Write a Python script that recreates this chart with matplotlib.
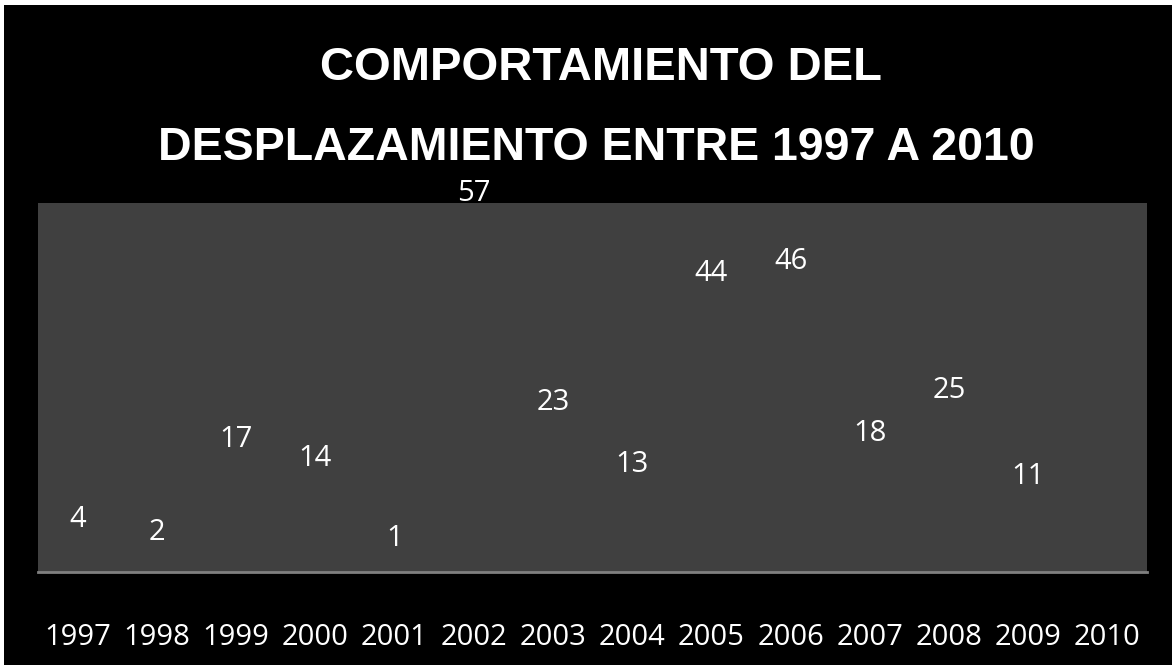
import matplotlib
matplotlib.use('Agg')
import matplotlib.pyplot as plt
from matplotlib.patches import Rectangle
import numpy as np

# datos
years = ['1997', '1998', '1999', '2000', '2001', '2002', '2003',
         '2004', '2005', '2006', '2007', '2008', '2009', '2010']
values = [4, 2, 17, 14, 1, 57, 23, 13, 44, 46, 18, 25, 11, np.nan]

title_1 = 'COMPORTAMIENTO DEL'
title_2 = 'DESPLAZAMIENTO ENTRE 1997 A 2010'

W, H = 1172, 667
fig = plt.figure(figsize=(W / 100, H / 100), dpi=100, facecolor='white')
# fondo negro de la diapositiva
fig.patches.append(Rectangle((4 / W, 2 / H), (W - 4) / W, (H - 7) / H,
                             transform=fig.transFigure, facecolor='black',
                             edgecolor='none', zorder=-5))

ax = fig.add_axes([38 / W, (H - 572) / H, (1147 - 38) / W, (572 - 203) / H])
ax.set_facecolor('#404040')
x = np.arange(len(years))
# barras invisibles, solo se ven las etiquetas
bars = ax.bar(x, np.nan_to_num(values), width=0.6, color='none')
ax.set_xlim(-0.5, len(years) - 0.5)
ax.set_ylim(0, 60)

for sp in ['top', 'left', 'right']:
    ax.spines[sp].set_visible(False)
ax.spines['bottom'].set_color('#7f7f7f')
ax.spines['bottom'].set_linewidth(2)
ax.set_yticks([])
ax.set_xticks(x)
ax.set_xticklabels(years, fontsize=21, color='white', family='Open Sans')
ax.tick_params(axis='x', length=0, pad=37)

for xi, v in zip(x, values):
    if np.isnan(v):
        continue
    ax.annotate(str(int(v)), (xi, v), xytext=(0, 14.5), textcoords='offset points',
                ha='center', va='baseline', fontsize=21, color='white',
                family='Open Sans', annotation_clip=False)

fig.text(0.513, 1 - 68 / H, title_1, ha='center', va='center', fontsize=34,
         fontweight='bold', color='white', family='Liberation Sans')
fig.text(0.509, 1 - 148 / H, title_2, ha='center', va='center', fontsize=33.5,
         fontweight='bold', color='white', family='Liberation Sans')

fig.savefig('out.png', dpi=100, facecolor=fig.get_facecolor())
